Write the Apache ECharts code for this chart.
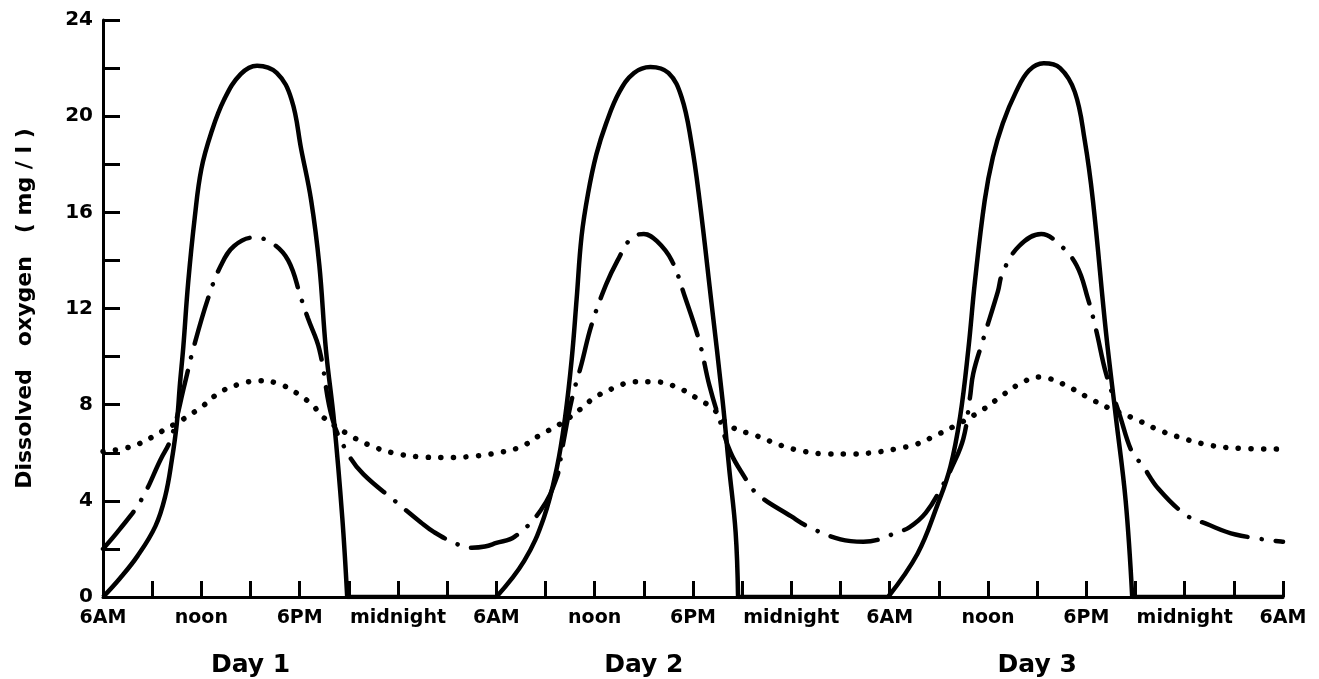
<!DOCTYPE html>
<html>
<head>
<meta charset="utf-8">
<title>Dissolved oxygen</title>
<script src="https://cdn.jsdelivr.net/npm/echarts@6/dist/echarts.min.js"></script>
<style>
  html, body { margin: 0; padding: 0; background: #fff; }
  #chart { width: 1319px; height: 679px; }
</style>
</head>
<body>
<div id="chart"></div>
<script>
// hours since 6AM of day 1; null breaks the curve so the corners at zero stay sharp
const solidHours = [0, 1.0, 2.1, 3.2, 3.8, 4.2, 4.5, 4.7, 4.9, 5.2, 5.6, 6.0, 6.6, 7.4, 8.4, 9.4, 10.6, 11.5, 12.1, 12.7, 13.2, 13.6, 14.1, 14.6, 14.9, 14.9, 14.9, 24.0, 24.0,
  24.0, 25.7, 26.9, 27.7, 28.2, 28.6, 28.9, 29.2, 29.6, 30.1, 30.7, 31.5, 32.4, 33.4, 34.5, 35.3, 35.9, 36.4, 37.1, 37.8, 38.2, 38.6, 38.75, 38.75, 38.75, 47.9, 47.9,
  47.9, 49.7, 50.9, 51.7, 52.3, 52.8, 53.2, 53.8, 54.3, 54.9, 55.7, 56.5, 57.4, 58.4, 59.3, 59.9, 60.4, 61.2, 61.8, 62.4, 62.8, 62.8, 62.8, 72];
const solidValues = [0, 0.75, 1.7, 2.95, 4.2, 5.7, 7.2, 8.9, 10.4, 13.1, 15.8, 17.8, 19.3, 20.7, 21.75, 22.1, 21.8, 20.7, 18.6, 16.5, 13.8, 10.3, 7.3, 3.3, 0, null, 0, 0, null,
  0, 1.5, 3.3, 5.4, 7.5, 9.9, 12.4, 15.0, 16.8, 18.4, 19.7, 21.0, 21.8, 22.05, 21.8, 20.8, 18.9, 16.5, 12.4, 8.2, 5.4, 2.7, 0, null, 0, 0, null,
  0, 1.8, 3.8, 5.4, 7.5, 10.3, 13.1, 16.5, 18.3, 19.7, 21.0, 21.9, 22.2, 22.0, 21.0, 19.0, 16.5, 11.0, 7.5, 4.0, 0, null, 0, 0];

const dashDotHours = [0, 1.0, 2.3, 3.5, 4.15, 5.0, 5.5, 6.4, 7.2, 8.0, 9.2, 10.25, 11.3, 12.1, 12.5, 13.2, 14.0, 15.0, 15.9, 17.8, 19.4, 20.2, 21.6, 22.5, 23.3,
  24.0, 25.1, 26.7, 27.7, 28.0, 28.6, 29.2, 29.8, 30.7, 31.4, 32.2, 33.0, 33.8, 34.7, 35.5, 36.4, 37.0, 37.7, 38.3, 39.0, 39.9, 42.0, 43.1, 45.0, 46.4, 47.4,
  48.3, 49.2, 50.2, 51.2, 51.8, 52.5, 52.9, 53.1, 53.7, 54.6, 54.9, 55.9, 57.25, 58.3, 59.4, 60.1, 60.6, 61.2, 62.0, 62.8, 63.4, 64.4, 66.1, 67.3, 69.1, 72];
const dashDotValues = [2.0, 2.8, 4.0, 5.7, 6.6, 8.9, 10.3, 12.4, 13.8, 14.6, 14.95, 14.75, 14.0, 12.4, 11.6, 10.3, 7.4, 5.9, 5.1, 4.0, 3.1, 2.7, 2.2, 2.05, 2.1,
  2.25, 2.5, 3.6, 5.0, 6.1, 8.2, 9.7, 11.3, 13.0, 14.0, 14.9, 15.1, 14.8, 14.0, 12.5, 10.6, 8.8, 7.2, 6.0, 5.15, 4.3, 3.35, 2.9, 2.4, 2.3, 2.4,
  2.65, 2.9, 3.5, 4.6, 5.4, 6.6, 8.3, 9.3, 10.7, 12.7, 13.5, 14.6, 15.1, 14.7, 13.8, 12.4, 11.1, 9.3, 7.65, 6.0, 5.5, 4.5, 3.4, 3.05, 2.6, 2.3];

const dottedHours = [0, 1.7, 3.0, 3.6, 4.9, 6.1, 7.1, 8.3, 9.6, 10.8, 12.0, 12.9, 13.3, 15.0, 16.5, 18.0, 19.6, 21.0, 22.5,
  24.1, 25.5, 26.7, 27.9, 29.2, 30.0, 31.2, 32.4, 33.7, 35.1, 36.4, 37.2, 38.3, 39.9, 41.4, 42.8, 44.2, 45.8, 47.5,
  48.3, 49.6, 50.9, 52.2, 53.7, 54.9, 55.9, 57.1, 57.7, 58.9, 60.1, 61.4, 63.0, 64.4, 65.9, 67.4, 69.0, 72];
const dottedValues = [6.05, 6.25, 6.65, 6.9, 7.4, 7.95, 8.5, 8.85, 9.0, 8.85, 8.4, 7.9, 7.55, 6.75, 6.25, 5.95, 5.82, 5.8, 5.85,
  6.0, 6.25, 6.75, 7.2, 7.85, 8.3, 8.7, 8.95, 8.95, 8.7, 8.2, 7.85, 7.1, 6.7, 6.3, 6.05, 5.95, 5.95, 6.05,
  6.15, 6.35, 6.75, 7.2, 7.8, 8.4, 8.85, 9.15, 9.1, 8.75, 8.3, 7.85, 7.4, 6.95, 6.6, 6.33, 6.2, 6.15];

const timeLabels = ['6AM', 'noon', '6PM', 'midnight'];
const dayHours = [9, 33, 57];
const dayNames = ['Day 1', 'Day 2', 'Day 3'];

const pairs = (xs, ys) => xs.map((x, i) => (ys[i] === null ? [x, '-'] : [x, ys[i]]));

const chart = echarts.init(document.getElementById('chart'));
const font = 'DejaVu Sans';

const option = {
  animation: false,
  backgroundColor: '#fff',
  grid: { left: 103, right: 36, top: 20, bottom: 82 },
  xAxis: [
    {
      type: 'value',
      min: 0,
      max: 72,
      interval: 3,
      splitLine: { show: false },
      axisLine: { lineStyle: { color: '#000', width: 3 } },
      axisTick: { inside: true, length: 16, lineStyle: { color: '#000', width: 3 } },
      axisLabel: {
        margin: 12,
        color: '#000',
        fontFamily: font,
        fontWeight: 'bold',
        fontSize: 19,
        showMinLabel: true,
        showMaxLabel: true,
        formatter: v => (v % 6 === 0 ? timeLabels[(v % 24) / 6] : '')
      }
    },
    {
      type: 'value',
      min: 0,
      max: 72,
      position: 'bottom',
      offset: 46,
      splitLine: { show: false },
      axisLine: { show: false },
      axisTick: { show: false },
      axisLabel: {
        customValues: dayHours,
        margin: 10,
        color: '#000',
        fontFamily: font,
        fontWeight: 'bold',
        fontSize: 25,
        formatter: v => dayNames[dayHours.indexOf(v)]
      }
    }
  ],
  yAxis: {
    type: 'value',
    min: 0,
    max: 24,
    interval: 2,
    name: 'Dissolved   oxygen   ( mg / l )',
    nameLocation: 'middle',
    nameRotate: 90,
    nameGap: 67,
    nameTextStyle: { color: '#000', fontFamily: font, fontWeight: 'bold', fontSize: 22 },
    splitLine: { show: false },
    axisLine: { lineStyle: { color: '#000', width: 3 } },
    axisTick: { inside: true, length: 17, lineStyle: { color: '#000', width: 3 } },
    axisLabel: {
      margin: 10,
      color: '#000',
      fontFamily: font,
      fontWeight: 'bold',
      fontSize: 20,
      formatter: v => (v % 4 === 0 ? String(v) : '')
    }
  },
  series: [
    {
      name: 'dotted',
      type: 'line',
      symbol: 'none',
      smooth: 0.4,
      data: pairs(dottedHours, dottedValues),
      lineStyle: { color: '#000', width: 5.5, type: [0.1, 12.5], cap: 'round' }
    },
    {
      name: 'dash-dot',
      type: 'line',
      symbol: 'none',
      smooth: 0.4,
      data: pairs(dashDotHours, dashDotValues),
      lineStyle: { color: '#000', width: 4.5, type: [48, 14, 0.1, 14], cap: 'round' }
    },
    {
      name: 'solid',
      type: 'line',
      symbol: 'none',
      smooth: 0.4,
      connectNulls: false,
      data: pairs(solidHours, solidValues),
      lineStyle: { color: '#000', width: 4.5, join: 'round' }
    }
  ]
};

chart.setOption(option);
</script>
</body>
</html>
